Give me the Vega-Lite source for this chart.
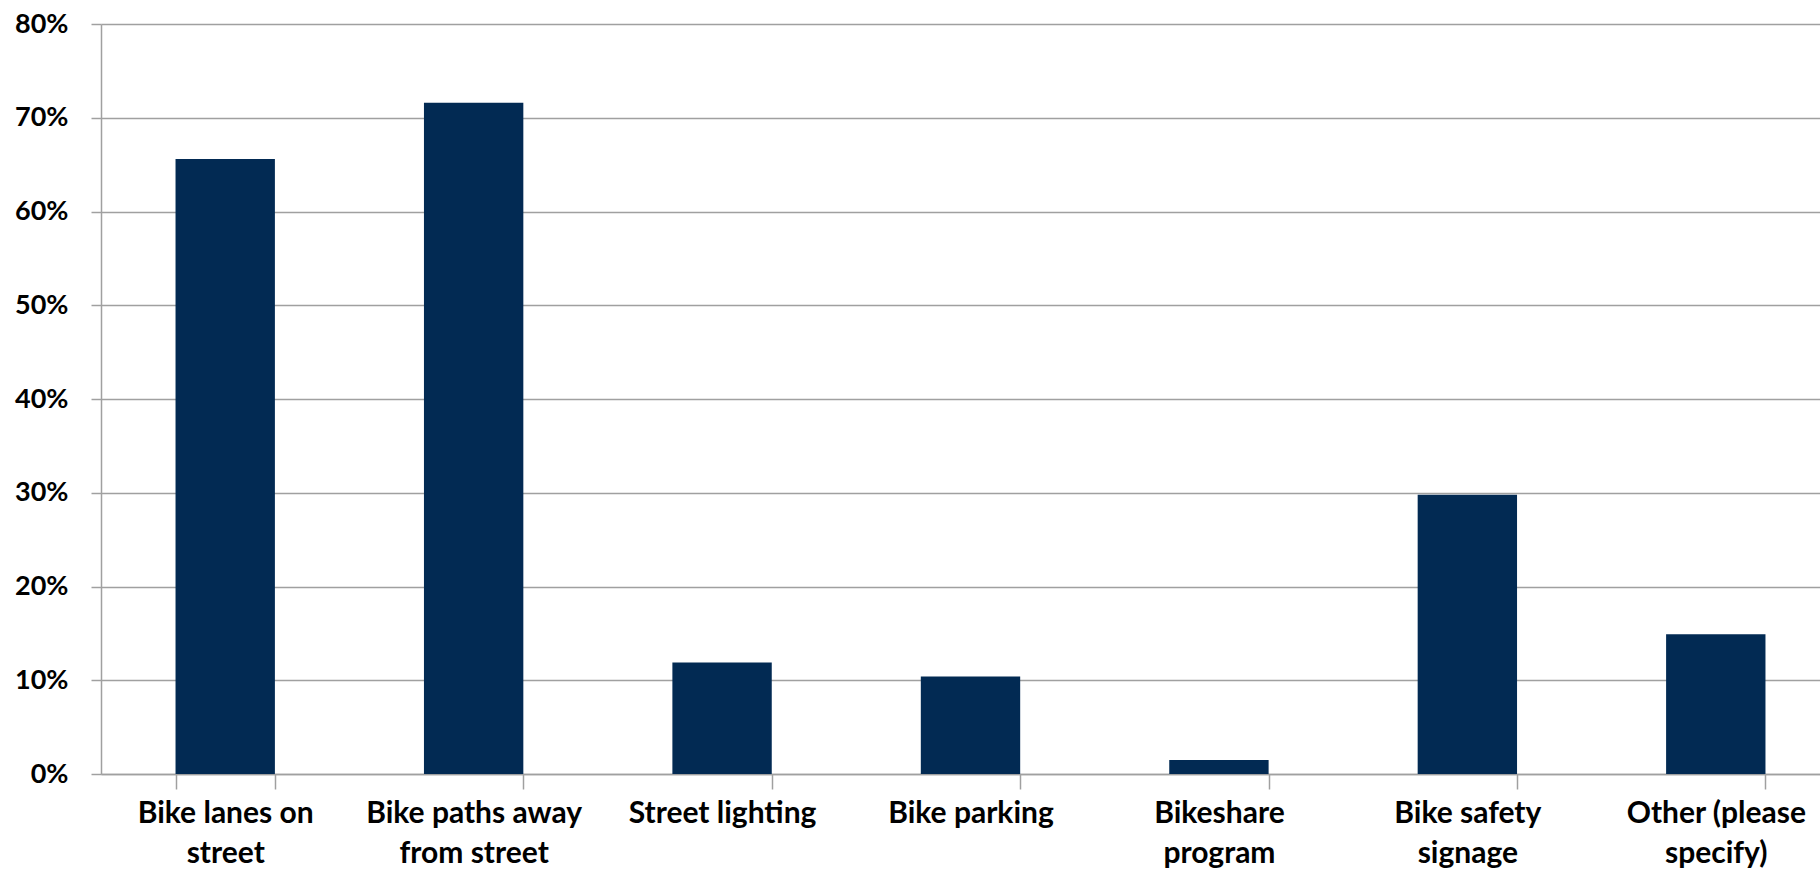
{
  "$schema": "https://vega.github.io/schema/vega-lite/v6.json",
  "autosize": "none",
  "width": 1719,
  "height": 750,
  "padding": {"left": 101, "top": 24, "right": 0, "bottom": 97},
  "background": "white",
  "config": {
    "view": {"stroke": null},
    "font": "Lato"
  },
  "data": {
    "values": [
      {"category": "Bike lanes on|street", "value": 0.656},
      {"category": "Bike paths away|from street", "value": 0.716},
      {"category": "Street lighting", "value": 0.119},
      {"category": "Bike parking", "value": 0.104},
      {"category": "Bikeshare|program", "value": 0.015},
      {"category": "Bike safety|signage", "value": 0.298},
      {"category": "Other (please|specify)", "value": 0.149}
    ]
  },
  "mark": {"type": "bar", "color": "#022a53"},
  "encoding": {
    "x": {
      "field": "category",
      "type": "nominal",
      "sort": null,
      "scale": {"range": [0, 1739], "paddingInner": 0.6, "paddingOuter": 0.3},
      "axis": {
        "title": null,
        "labelAngle": 0,
        "labelExpr": "split(datum.label, '|')",
        "labelFont": "Lato",
        "labelFontSize": 30,
        "labelFontWeight": "bold",
        "labelColor": "#000000",
        "labelLineHeight": 40,
        "labelLimit": 0,
        "labelPadding": 9,
        "labelBaseline": "top",
        "tickBand": "extent",
        "tickSize": 15,
        "tickColor": "#a0a0a0",
        "tickWidth": 1.5,
        "domainColor": "#a0a0a0",
        "domainWidth": 1.5,
        "grid": false
      }
    },
    "y": {
      "field": "value",
      "type": "quantitative",
      "scale": {"domain": [0, 0.8], "nice": false},
      "axis": {
        "title": null,
        "format": ".0%",
        "values": [0, 0.1, 0.2, 0.3, 0.4, 0.5, 0.6, 0.7, 0.8],
        "labelFont": "Lato",
        "labelFontSize": 27,
        "labelFontWeight": "bold",
        "labelColor": "#000000",
        "labelPadding": 23,
        "tickSize": 10,
        "tickColor": "#a0a0a0",
        "tickWidth": 1.5,
        "domainColor": "#a0a0a0",
        "domainWidth": 1.5,
        "grid": true,
        "gridColor": "#a0a0a0",
        "gridWidth": 1.5
      }
    }
  }
}
